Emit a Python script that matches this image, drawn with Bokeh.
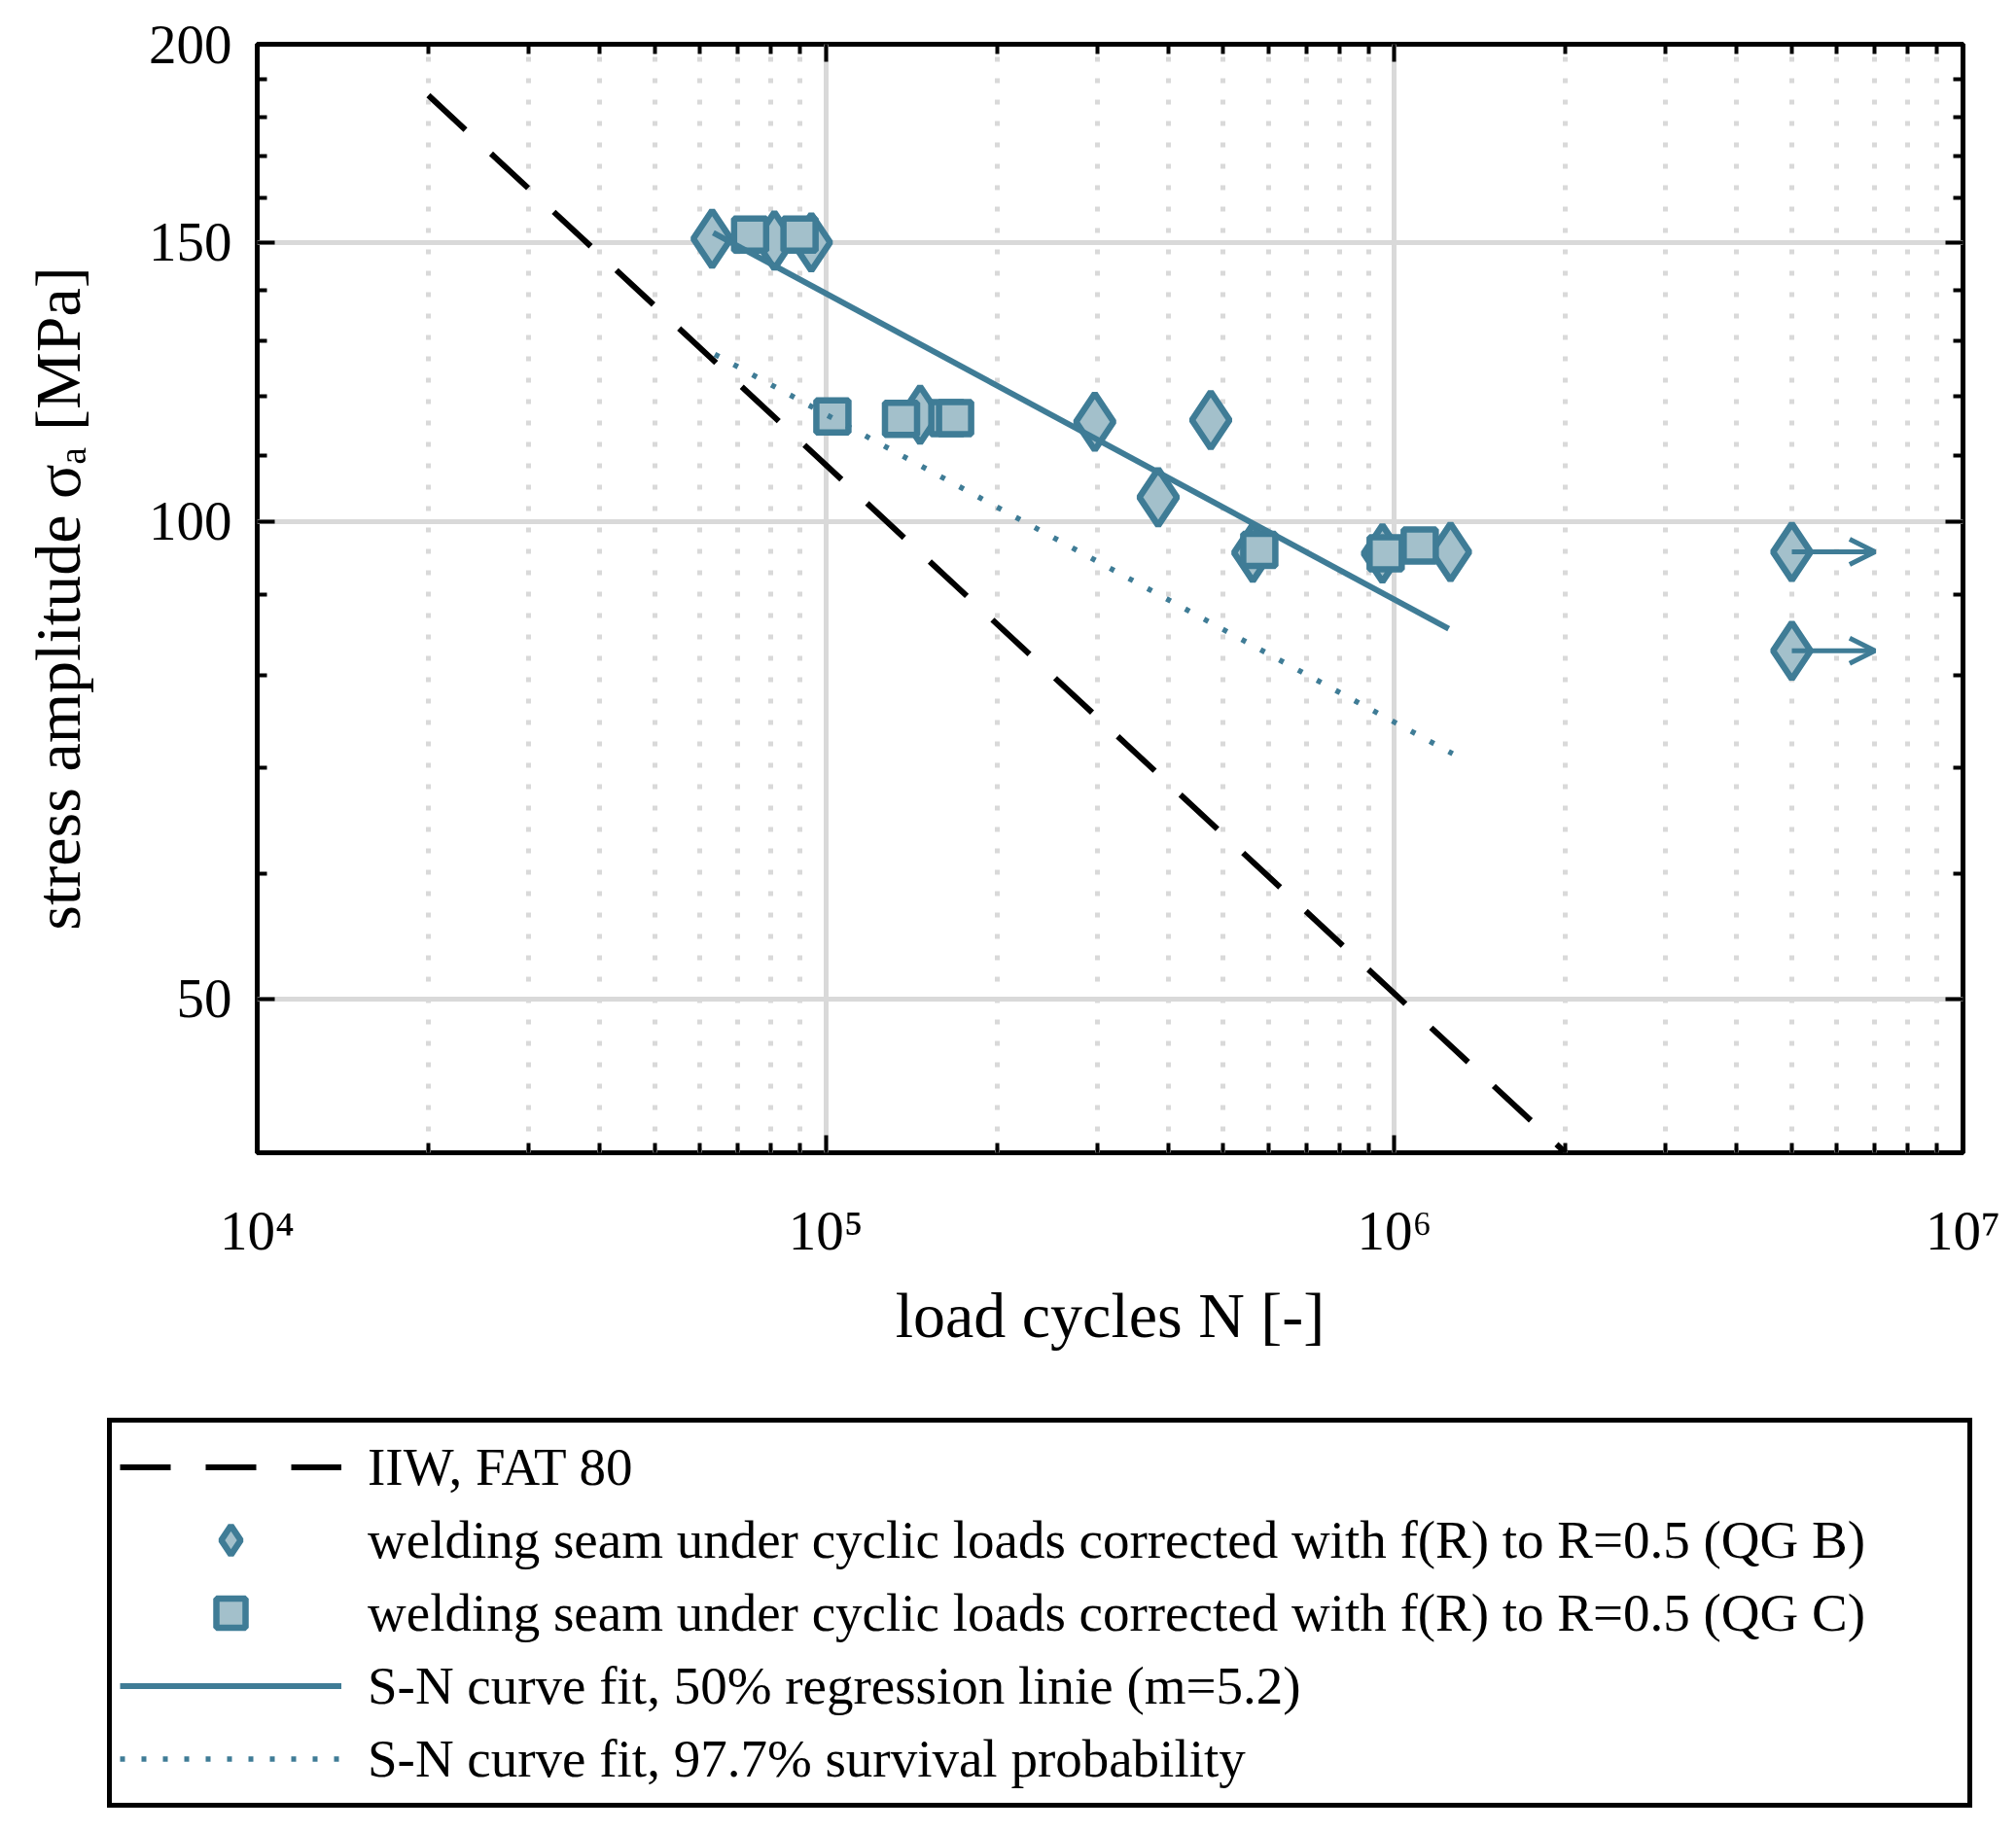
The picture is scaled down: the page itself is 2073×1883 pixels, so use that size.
from bokeh.plotting import figure
from bokeh.layouts import column
from bokeh.models import (LogAxis, FixedTicker, Legend, LegendItem, Arrow, OpenHead,
                          ColumnDataSource, CustomJSTickFormatter, Range1d)
from bokeh.embed import file_html
from bokeh.resources import INLINE

# QG B specimens (diamonds): load cycles and stress amplitude
qgb_n = [63100, 81200, 94300, 146500, 297200, 384200, 475300, 563600, 952700, 1255000]
qgb_s = [150.8, 150.4, 150.0, 116.8, 115.6, 103.6, 115.9, 95.6, 95.5, 95.7]

# QG B run-outs (no failure), arrows point to arrow_n
runout_n = [5.0e6, 5.0e6]
runout_s = [95.7, 82.9]
arrow_n = [7.0e6, 7.0e6]

# QG C specimens (squares)
qgc_n = [73600, 89900, 102700, 135600, 163600, 168800, 578600, 965200, 1108000]
qgc_s = [151.7, 151.7, 116.5, 116.1, 116.2, 116.2, 96.0, 95.5, 96.6]

# curves
iiw_n = [2.0e4, 2.0e6]
iiw_s = [185.7, 40.0]
fit50_n = [63400, 1246000]
fit50_s = [152.1, 85.6]
fit977_n = [63800, 1266000]
fit977_s = [127.5, 71.4]

x_major = [1e4, 1e5, 1e6, 1e7]
x_labels = ["10\u2074", "10\u2075", "10\u2076", "10\u2077"]
x_minor = [m * d for d in (1e4, 1e5, 1e6) for m in range(2, 10)]
y_major = [50, 100, 150, 200]
y_labels = ["50", "100", "150", "200"]
y_minor = [40, 60, 70, 80, 90, 110, 120, 130, 140, 160, 170, 180, 190]

labels = [
    "IIW, FAT 80",
    "welding seam under cyclic loads corrected with f(R) to R=0.5 (QG B)",
    "welding seam under cyclic loads corrected with f(R) to R=0.5 (QG C)",
    "S-N curve fit, 50% regression linie (m=5.2)",
    "S-N curve fit, 97.7% survival probability",
]

EDGE = "#3f7c96"
FILL = "#a3c0cb"
FONT = "Liberation Serif"

IIW_STYLE = dict(line_color="black", line_width=6, line_dash="52 36")
DIA_STYLE = dict(marker="diamond", size=58, fill_color=FILL, line_color=EDGE, line_width=6.5)
SQ_STYLE = dict(marker="square", size=33, fill_color=FILL, line_color=EDGE, line_width=6.5)
FIT50_STYLE = dict(line_color=EDGE, line_width=6)
FIT977_STYLE = dict(line_color=EDGE, line_width=5.5, line_dash="5 17")

p = figure(x_axis_type="log", y_axis_type="log",
           x_range=Range1d(1e4, 1e7), y_range=Range1d(40, 200),
           frame_width=1754, frame_height=1140,
           min_border_left=264, min_border_right=39, min_border_top=45, min_border_bottom=265,
           toolbar_location=None, output_backend="svg")
p.outline_line_color = "black"
p.outline_line_width = 5

xt = FixedTicker(ticks=x_major, minor_ticks=x_minor)
yt = FixedTicker(ticks=y_major, minor_ticks=y_minor)
blank = CustomJSTickFormatter(code="return ''")


def style_axis(ax, ticker):
    ax.ticker = ticker
    ax.axis_line_color = None
    ax.major_tick_in = 18
    ax.major_tick_out = 0
    ax.minor_tick_in = 10
    ax.minor_tick_out = 0
    ax.major_tick_line_width = 4
    ax.minor_tick_line_width = 4
    ax.major_tick_line_color = "black"
    ax.minor_tick_line_color = "black"
    ax.major_label_text_font = FONT
    ax.major_label_text_font_size = "57px"
    ax.major_label_text_color = "black"
    ax.axis_label_text_font = FONT
    ax.axis_label_text_font_size = "66px"
    ax.axis_label_text_font_style = "normal"
    ax.axis_label_text_color = "black"


xa = p.xaxis[0]
style_axis(xa, xt)
xa.major_label_overrides = dict(zip(x_major, x_labels))
xa.major_label_standoff = 48
xa.axis_label = "load cycles N [-]"
xa.axis_label_standoff = 16

ya = p.yaxis[0]
style_axis(ya, yt)
ya.major_label_overrides = dict(zip(y_major, y_labels))
ya.major_label_standoff = 26
ya.axis_label = "stress amplitude \u03c3\u2090 [MPa]"
ya.axis_label_standoff = 54

top = LogAxis()
style_axis(top, xt)
top.formatter = blank
p.add_layout(top, "above")
right = LogAxis()
style_axis(right, yt)
right.formatter = blank
p.add_layout(right, "right")

p.xgrid.ticker = xt
p.xgrid.grid_line_color = "#d9d9d9"
p.xgrid.grid_line_width = 5
p.xgrid.minor_grid_line_color = "#d9d9d9"
p.xgrid.minor_grid_line_width = 5
p.xgrid.minor_grid_line_dash = "5 17"
p.ygrid.ticker = yt
p.ygrid.grid_line_color = "#d9d9d9"
p.ygrid.grid_line_width = 5

p.line(iiw_n, iiw_s, **IIW_STYLE)
p.scatter(qgb_n, qgb_s, **DIA_STYLE)
p.scatter(runout_n, runout_s, **DIA_STYLE)
p.scatter(qgc_n, qgc_s, **SQ_STYLE)
p.line(fit50_n, fit50_s, **FIT50_STYLE)
p.line(fit977_n, fit977_s, **FIT977_STYLE)

arr_src = ColumnDataSource(dict(x0=runout_n, y0=runout_s, x1=arrow_n, y1=runout_s))
p.add_layout(Arrow(source=arr_src, x_start="x0", y_start="y0", x_end="x1", y_end="y1",
                   line_color=EDGE, line_width=5,
                   end=OpenHead(size=26, line_color=EDGE, line_width=5)))

# legend strip under the chart: the legend box is wider than the plot frame,
# so it lives in its own figure whose frame spans the whole width
lg = figure(width=2057, height=417, x_range=Range1d(0, 1), y_range=Range1d(0, 1),
            min_border_left=0, min_border_top=0, min_border_right=0, min_border_bottom=0,
            x_axis_location=None, y_axis_location=None,
            toolbar_location=None, output_backend="svg")
lg.outline_line_color = None
lg.grid.visible = False
for fig in (p, lg):
    if "frame_align" in fig.properties():
        fig.frame_align = False

# same data, but far outside the strip's 0..1 ranges, so only the legend shows them
r_iiw = lg.line(iiw_n, iiw_s, **IIW_STYLE)
r_dia = lg.scatter(qgb_n, qgb_s, **DIA_STYLE)
r_sq = lg.scatter(qgc_n, qgc_s, **SQ_STYLE)
r_f50 = lg.line(fit50_n, fit50_s, **FIT50_STYLE)
r_f977 = lg.line(fit977_n, fit977_s, **FIT977_STYLE)

legend = Legend(items=[LegendItem(label=t, renderers=[r])
                       for t, r in zip(labels, [r_iiw, r_dia, r_sq, r_f50, r_f977])],
                location=(110, 8), margin=0, padding=8, spacing=0,
                glyph_width=228, glyph_height=75, label_height=60,
                label_standoff=27, label_width=1637,
                label_text_font=FONT, label_text_font_size="55px", label_text_color="black",
                border_line_color="black", border_line_width=5, border_line_alpha=1,
                background_fill_color="white", background_fill_alpha=1)
lg.add_layout(legend, "center")

page = column(p, lg, spacing=0)
open("out.html", "w").write(file_html(page, INLINE))
